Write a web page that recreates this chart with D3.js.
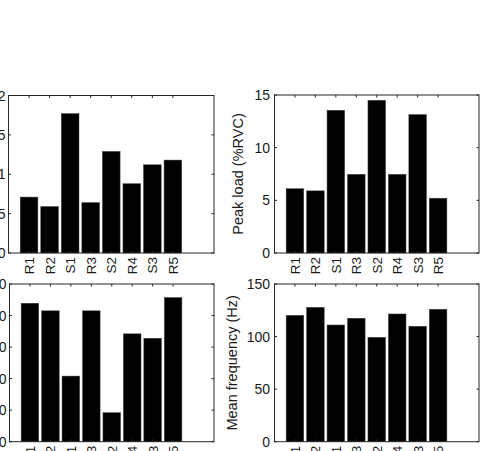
<!DOCTYPE html>
<html><head><meta charset="utf-8">
<script src="https://cdn.jsdelivr.net/npm/d3@7"></script>
<style>body{margin:0;background:#fff}svg{display:block}text{font-family:"Liberation Sans",Arial,sans-serif;fill:#1a1a1a}</style>
</head><body>
<script>
const categories = ["R1","R2","S1","R3","S2","R4","S3","R5"];
const valuesA = [0.71,0.59,1.77,0.64,1.29,0.88,1.12,1.18];
const valuesB = [6.1,5.9,13.55,7.47,14.5,7.47,13.14,5.2];
const valuesC = [43.9,41.5,20.8,41.5,9.2,34.2,32.8,45.7];
const valuesD = [120.2,127.8,111,117.4,99.3,121.5,109.8,126];
const ticksA = [0,0.5,1,1.5,2];
const ticksB = [0,5,10,15];
const ticksC = [0,10,20,30,40,50];
const ticksD = [0,50,100,150];
const labelsA = ["0","0.5","1","1.5","2"];
const labelsB = ["0","5","10","15"];
const labelsC = ["0","10","20","30","40","50"];
const labelsD = ["0","50","100","150"];

const svg = d3.select("body").append("svg").attr("width",485).attr("height",451);

const panels = [
  {x0:8.5,x1:214,y0:95.5,y1:253,vals:valuesA,ticks:ticksA,labels:labelsA,max:2,ylabel:null,gap:3,loff:0},
  {x0:274.5,x1:479,y0:95,y1:253,vals:valuesB,ticks:ticksB,labels:labelsB,max:15,ylabel:"Peak load (%RVC)",gap:4.5,loff:31.5},
  {x0:9.5,x1:214,y0:284,y1:441.7,vals:valuesC,ticks:ticksC,labels:labelsC,max:50,ylabel:null,gap:3,loff:0},
  {x0:274.5,x1:479,y0:284,y1:441.7,vals:valuesD,ticks:ticksD,labels:labelsD,max:150,ylabel:"Mean frequency (Hz)",gap:4.5,loff:38}
];

panels.forEach(p=>{
  const g = svg.append("g");
  const x = d3.scaleLinear().domain([0,10]).range([p.x0,p.x1]);
  const y = d3.scaleLinear().domain([0,p.max]).range([p.y1,p.y0]);
  const bw = x(0.86)-x(0);
  g.selectAll("rect.bar").data(p.vals).enter().append("rect")
    .attr("x",(d,i)=>x(i+1)-bw/2).attr("width",bw)
    .attr("y",d=>y(d)).attr("height",d=>y(0)-y(d))
    .attr("fill","#000").attr("stroke","#444").attr("stroke-width",0.5);
  g.append("rect").attr("x",p.x0).attr("y",p.y0).attr("width",p.x1-p.x0).attr("height",p.y1-p.y0)
    .attr("fill","none").attr("stroke","#262626").attr("stroke-width",1);
  const tl = 2.5;
  categories.forEach((c,i)=>{
    const xx = x(i+1);
    g.append("line").attr("x1",xx).attr("x2",xx).attr("y1",p.y1).attr("y2",p.y1-tl).attr("stroke","#262626");
    g.append("line").attr("x1",xx).attr("x2",xx).attr("y1",p.y0).attr("y2",p.y0+tl).attr("stroke","#262626");
    g.append("text").attr("transform",`translate(${xx+5},${p.y1+4}) rotate(-90)`)
      .attr("text-anchor","end").attr("font-size",13.5).text(c);
  });
  p.ticks.forEach((t,i)=>{
    const yy = y(t);
    g.append("line").attr("x1",p.x0).attr("x2",p.x0+tl).attr("y1",yy).attr("y2",yy).attr("stroke","#262626");
    g.append("line").attr("x1",p.x1).attr("x2",p.x1-tl).attr("y1",yy).attr("y2",yy).attr("stroke","#262626");
    g.append("text").attr("x",p.x0-p.gap).attr("y",yy+5).attr("text-anchor","end")
      .attr("font-size",14).text(p.labels[i]);
  });
  if(p.ylabel){
    g.append("text").attr("transform",`translate(${p.x0-p.loff},${(p.y0+p.y1)/2}) rotate(-90)`)
      .attr("text-anchor","middle").attr("font-size",14.5).text(p.ylabel);
  }
});
</script>
</body></html>
